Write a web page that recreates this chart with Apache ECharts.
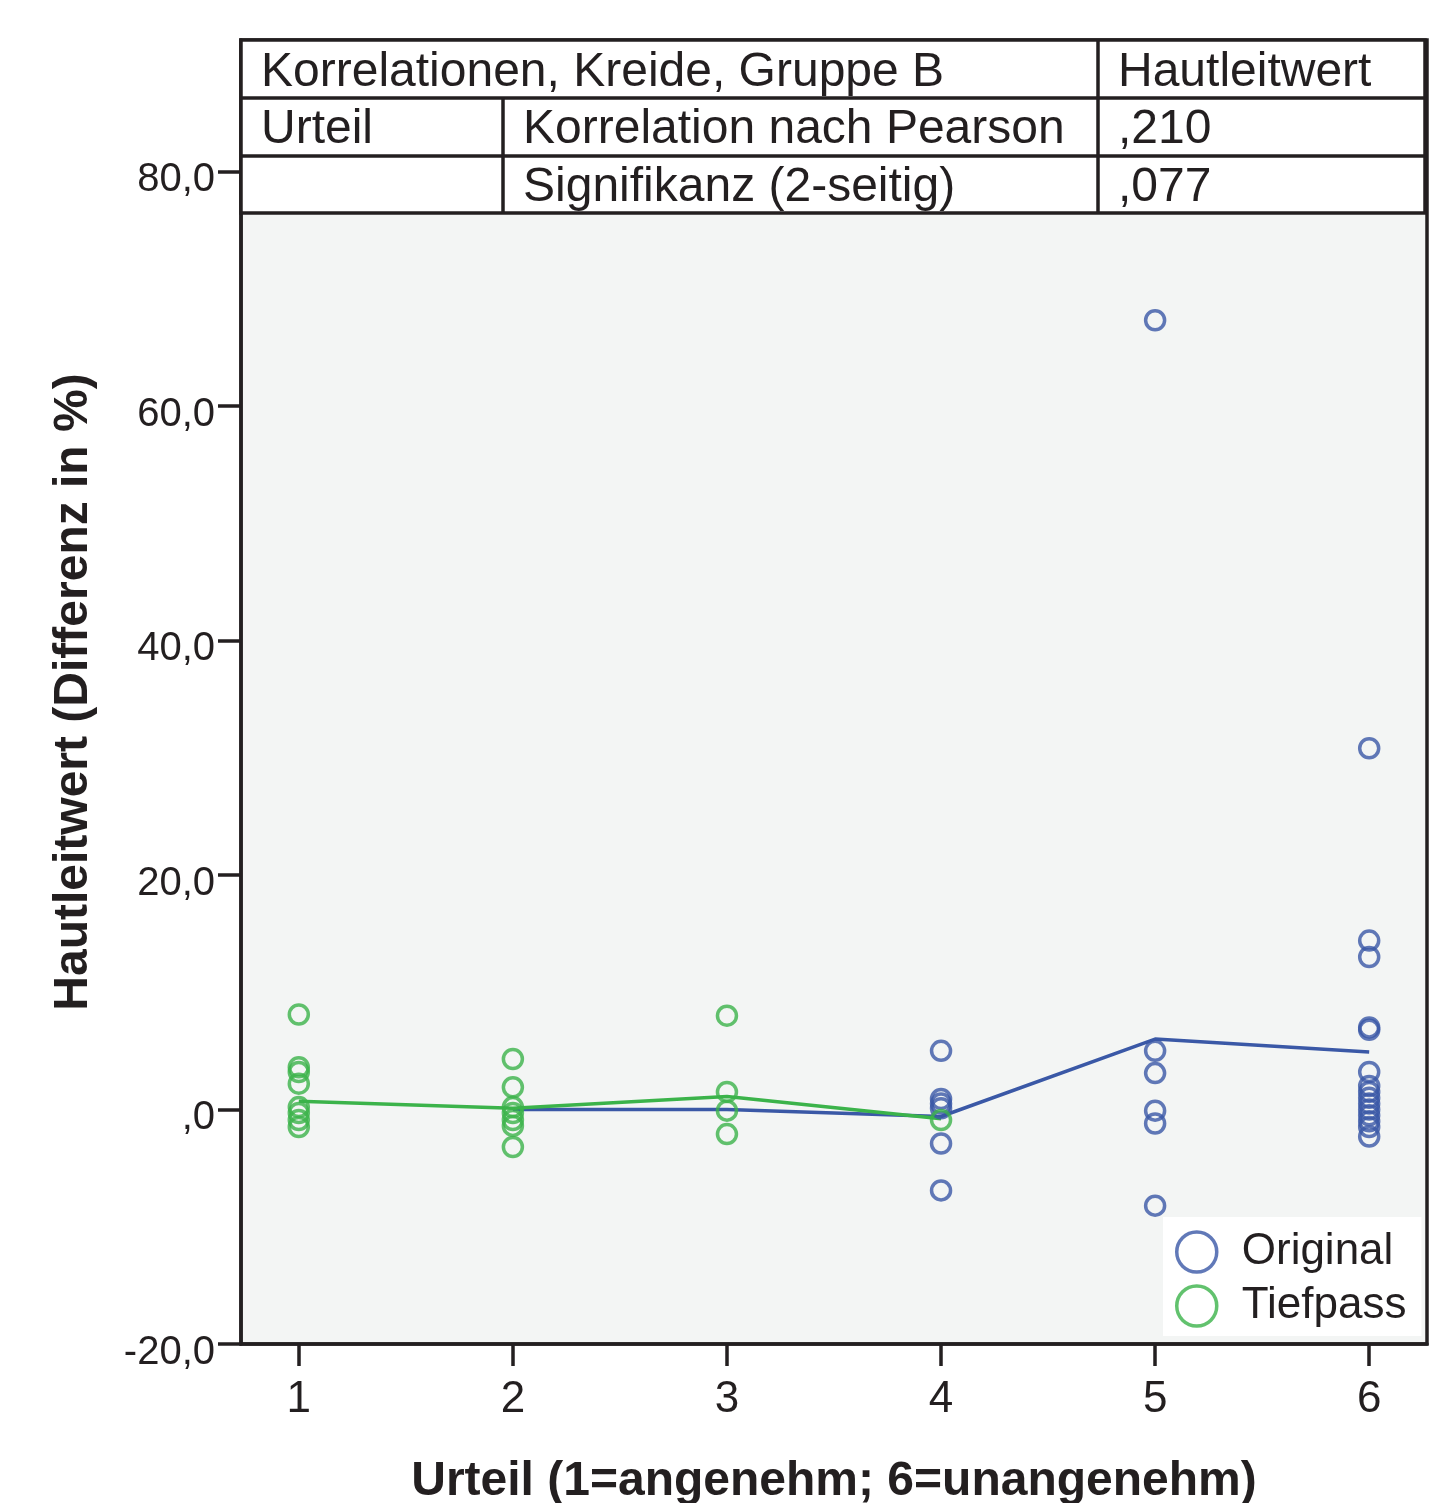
<!DOCTYPE html>
<html>
<head>
<meta charset="utf-8">
<script src="https://cdn.jsdelivr.net/npm/echarts@6/dist/echarts.min.js"></script>
<style>
html,body{margin:0;padding:0;background:#fff;}
#chart{width:1446px;height:1503px;}
</style>
</head>
<body>
<div id="chart"></div>
<script>
// ---- data ----
const categories = [1, 2, 3, 4, 5, 6];
const yTicks = [-20, 0, 20, 40, 60, 80];
const yTickLabels = ['-20,0', ',0', '20,0', '40,0', '60,0', '80,0'];

// Original (blue) individual values per Urteil
const originalValues = {
  4: [5.0, 0.9, 0.5, 0.1, -2.9, -6.9],
  5: [67.3, 5.0, 3.1, -0.1, -1.2, -8.2],
  6: [30.8, 14.4, 13.0, 7.0, 6.8, 3.2, 2.0, 1.5, 1.0, 0.5, 0.0, -0.5, -1.0, -1.5, -2.3]
};
// Tiefpass (green) individual values per Urteil
const tiefpassValues = {
  1: [8.1, 3.6, 3.2, 2.2, 0.2, -0.3, -0.9, -1.5],
  2: [4.3, 1.9, 0.2, -0.3, -0.9, -1.4, -3.2],
  3: [8.0, 1.5, -0.1, -2.1],
  4: [-0.9]
};
// mean lines
const originalMeanX = [2, 3, 4, 5, 6];
const originalMean = [0.0, 0.0, -0.6, 6.0, 4.9];
const tiefpassMeanX = [1, 2, 3, 4];
const tiefpassMean = [0.7, 0.1, 1.1, -0.8];

// table texts
const tableTitle = 'Korrelationen, Kreide, Gruppe B';
const tableHeader = 'Hautleitwert';
const tableRowLabel = 'Urteil';
const tableRows = ['Korrelation nach Pearson', 'Signifikanz (2-seitig)'];
const tableValues = [',210', ',077'];

const seriesNames = ['Original', 'Tiefpass'];
const xTitle = 'Urteil (1=angenehm; 6=unangenehm)';
const yTitle = 'Hautleitwert (Differenz in %)';

// ---- build ----
function toPairs(obj) {
  const out = [];
  Object.keys(obj).forEach(k => obj[k].forEach(v => out.push([Number(k), v])));
  return out;
}
const BLUE = '#3a58a6';
const GREEN = '#3bb34a';
const DARK = '#231f20';
const FONT = '"Liberation Sans", Arial, sans-serif';

const chart = echarts.init(document.getElementById('chart'), null, {renderer: 'canvas'});

const tL = 241, tR = 1425, tT = 40, rowH = [98, 156, 213];
const c1 = 503, c2 = 1098;
const LW = 3.5;
const tableGraphics = [
  {type: 'rect', shape: {x: tL, y: tT, width: tR - tL, height: rowH[2] - tT}, style: {fill: '#fff', stroke: DARK, lineWidth: LW}, z: 100},
  {type: 'line', shape: {x1: tL, y1: rowH[0], x2: tR, y2: rowH[0]}, style: {stroke: DARK, lineWidth: LW}, z: 101},
  {type: 'line', shape: {x1: tL, y1: rowH[1], x2: tR, y2: rowH[1]}, style: {stroke: DARK, lineWidth: LW}, z: 101},
  {type: 'line', shape: {x1: c1, y1: rowH[0], x2: c1, y2: rowH[2]}, style: {stroke: DARK, lineWidth: LW}, z: 101},
  {type: 'line', shape: {x1: c2, y1: tT, x2: c2, y2: rowH[2]}, style: {stroke: DARK, lineWidth: LW}, z: 101},
];
function tText(x, yc, s) {
  return {type: 'text', x: x, y: yc, z: 102,
    style: {text: s, fill: DARK, font: '48px ' + FONT, textVerticalAlign: 'middle', verticalAlign: 'middle'}};
}
tableGraphics.push(tText(261, 73, tableTitle));
tableGraphics.push(tText(1118, 73, tableHeader));
tableGraphics.push(tText(261, 130, tableRowLabel));
tableGraphics.push(tText(523, 130, tableRows[0]));
tableGraphics.push(tText(523, 188, tableRows[1]));
tableGraphics.push(tText(1118, 130, tableValues[0]));
tableGraphics.push(tText(1118, 188, tableValues[1]));

const option = {
  animation: false,
  backgroundColor: '#fff',
  textStyle: {fontFamily: FONT},
  grid: {
    left: 241, right: 19, top: 40, bottom: 159,
    show: true, backgroundColor: '#f3f5f4', borderColor: DARK, borderWidth: LW,
    containLabel: false, outerBoundsMode: 'none'
  },
  xAxis: {
    type: 'value', min: 0.73, max: 6.27,
    name: xTitle, nameLocation: 'middle', nameGap: 114,
    nameTextStyle: {fontSize: 48, fontWeight: 'bold', color: DARK, fontFamily: FONT},
    axisLine: {show: true, onZero: false, lineStyle: {color: DARK, width: LW}},
    axisTick: {show: true, length: 22, lineStyle: {color: DARK, width: LW}, customValues: categories},
    axisLabel: {fontSize: 44, color: DARK, margin: 34, customValues: categories, formatter: v => String(v)},
    splitLine: {show: false}
  },
  yAxis: {
    type: 'value', min: -20, max: 91.2,
    name: yTitle, nameLocation: 'middle', nameGap: 143,
    nameTextStyle: {fontSize: 48, fontWeight: 'bold', color: DARK, fontFamily: FONT},
    axisLine: {show: true, onZero: false, lineStyle: {color: DARK, width: LW}},
    axisTick: {show: true, length: 23, lineStyle: {color: DARK, width: LW}, customValues: yTicks},
    axisLabel: {fontSize: 40, color: DARK, margin: 26, verticalAlign: 'top', lineHeight: 18, customValues: yTicks,
      formatter: v => { const i = yTicks.indexOf(Math.round(v)); return i >= 0 ? yTickLabels[i] : ''; }},
    splitLine: {show: false}
  },
  legend: {
    show: true, orient: 'vertical', left: 1163, top: 1217,
    backgroundColor: '#fff', padding: [13, 15, 8, 12],
    itemWidth: 40, itemHeight: 40, itemGap: 10,
    textStyle: {fontSize: 44, lineHeight: 26, color: DARK, fontFamily: FONT, padding: [14, 0, 0, 20]},
    data: [
      {name: seriesNames[0], icon: 'circle', itemStyle: {color: 'rgba(0,0,0,0)', borderColor: BLUE, borderWidth: 3.5}},
      {name: seriesNames[1], icon: 'circle', itemStyle: {color: 'rgba(0,0,0,0)', borderColor: GREEN, borderWidth: 3.5}}
    ]
  },
  series: [
    {
      name: 'Original Mittelwert', type: 'line', z: 3,
      data: originalMeanX.map((x, i) => [x, originalMean[i]]),
      showSymbol: false, symbol: 'none', lineStyle: {color: BLUE, width: 3.5}, itemStyle: {color: BLUE}
    },
    {
      name: 'Tiefpass Mittelwert', type: 'line', z: 4,
      data: tiefpassMeanX.map((x, i) => [x, tiefpassMean[i]]),
      showSymbol: false, symbol: 'none', lineStyle: {color: GREEN, width: 3.5}, itemStyle: {color: GREEN}
    },
    {
      name: seriesNames[0], type: 'scatter', z: 5,
      data: toPairs(originalValues), symbol: 'circle', symbolSize: 19,
      itemStyle: {color: 'rgba(0,0,0,0)', borderColor: BLUE, borderWidth: 3.5}
    },
    {
      name: seriesNames[1], type: 'scatter', z: 6,
      data: toPairs(tiefpassValues), symbol: 'circle', symbolSize: 19,
      itemStyle: {color: 'rgba(0,0,0,0)', borderColor: GREEN, borderWidth: 3.5}
    }
  ],
  graphic: tableGraphics
};
chart.setOption(option);
</script>
</body>
</html>
